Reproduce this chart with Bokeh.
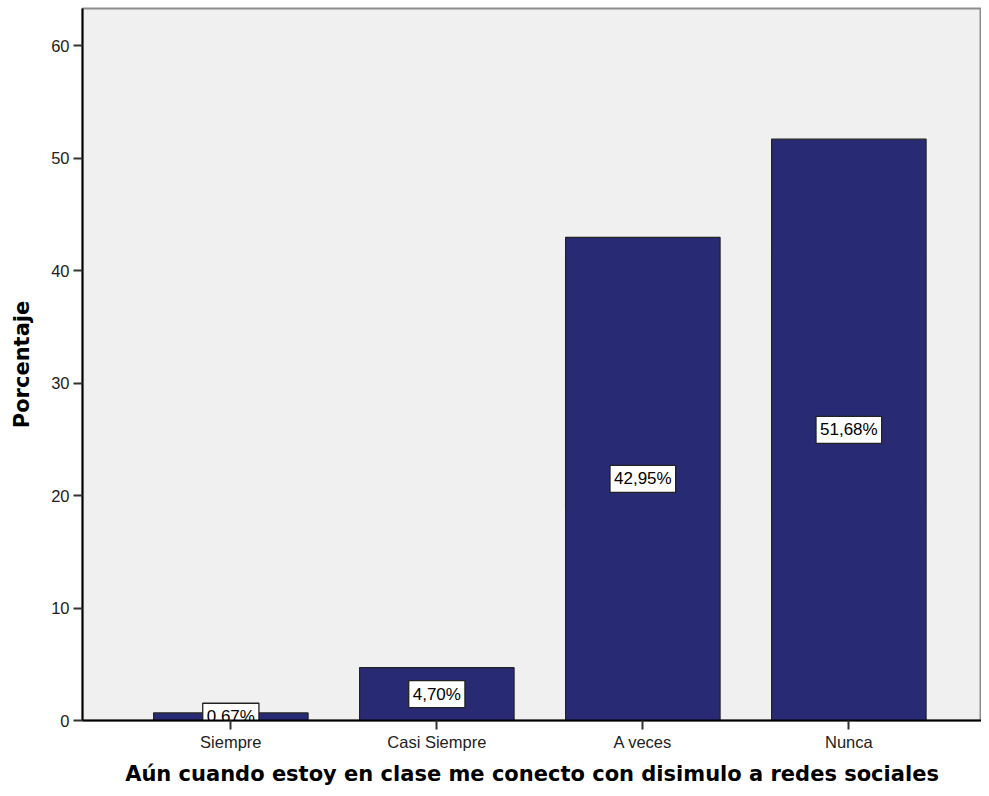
from bokeh.plotting import figure
from bokeh.models import ColumnDataSource, Range1d, FixedTicker
from bokeh.core.properties import value
from bokeh.embed import file_html
from bokeh.resources import INLINE

categories = ["Siempre", "Casi Siempre", "A veces", "Nunca"]
percentages = [0.67, 4.70, 42.95, 51.68]
value_labels = ["0,67%", "4,70%", "42,95%", "51,68%"]
y_ticks = [0, 10, 20, 30, 40, 50, 60]

positions = list(range(1, len(categories) + 1))
source = ColumnDataSource(data=dict(
    x=positions,
    top=percentages,
    mid=[v / 2 for v in percentages],
    label=value_labels,
))

p = figure(width=981, height=788, output_backend="svg", toolbar_location=None,
           x_range=Range1d(0.28, 4.644), y_range=Range1d(0, 63.3),
           min_border_left=82, min_border_right=0, min_border_top=8,
           min_border_bottom=66)

p.background_fill_color = "#f0f0f0"
p.border_fill_color = "white"
p.outline_line_color = "#8c8c8c"
p.outline_line_width = 2
p.grid.visible = False

p.vbar(x="x", top="top", bottom=0, width=0.75, source=source,
       fill_color="#282a73", line_color="#222222", line_width=1.2)

p.text(x="x", y="mid", text="label", source=source,
       text_align="center", text_baseline="middle",
       text_font=value("Liberation Sans"), text_font_size="17px",
       text_color="black",
       background_fill_color="white",
       border_line_color="#222222", border_line_width=1.3,
       padding=4)

p.xaxis.ticker = FixedTicker(ticks=positions)
p.xaxis.major_label_overrides = {i: c for i, c in zip(positions, categories)}
p.yaxis.ticker = FixedTicker(ticks=y_ticks)

for ax in (p.xaxis, p.yaxis):
    ax.axis_line_color = "black"
    ax.axis_line_width = 2
    ax.major_tick_line_color = "#333333"
    ax.major_tick_line_width = 2
    ax.major_tick_out = 9
    ax.major_tick_in = 0
    ax.minor_tick_line_color = None
    ax.major_label_text_font = "Liberation Sans"
    ax.major_label_text_font_size = "16.5px"
    ax.major_label_text_color = "#222222"
    ax.axis_label_text_font = "DejaVu Sans"
    ax.axis_label_text_font_style = "bold"
    ax.axis_label_text_color = "black"

p.xaxis.major_label_standoff = 3
p.yaxis.major_label_standoff = 4
p.xaxis.axis_label = "Aún cuando estoy en clase me conecto con disimulo a redes sociales"
p.xaxis.axis_label_text_font_size = "21px"
p.xaxis.axis_label_standoff = 8
p.yaxis.axis_label = "Porcentaje"
p.yaxis.axis_label_text_font_size = "21px"
p.yaxis.axis_label_standoff = 14

open("out.html", "w").write(file_html(p, INLINE))
